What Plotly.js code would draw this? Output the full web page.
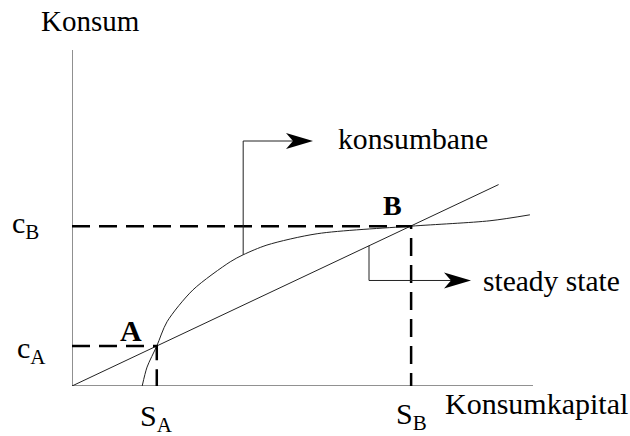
<!DOCTYPE html>
<html>
<head>
<meta charset="utf-8">
<script src="https://cdn.plot.ly/plotly-3.0.1.min.js"></script>
<style>html,body{margin:0;padding:0;background:#fff;}#chart{width:630px;height:436px;}</style>
</head>
<body>
<div id="chart"></div>
<script>
// ---- data ----
const curveCapital = [1.30, 1.39, 1.57, 1.76, 2.24, 2.93, 3.17, 3.61, 4.54, 6.28, 7.74, 8.48];
const curveConsumption = [0.00, 0.35, 0.74, 1.19, 1.78, 2.30, 2.43, 2.61, 2.82, 2.96, 3.06, 3.17];
const lineCapital = [0, 7.90];
const lineConsumption = [0, 3.73];
const pointNames = ['A', 'B'];
const pointCapital = [1.57, 6.28];
const pointConsumption = [0.74, 2.96];
const capitalLabels = ['S<sub>A</sub>', 'S<sub>B</sub>'];
const consumptionLabels = ['c<sub>A</sub>', 'c<sub>B</sub>'];
const calloutTexts = ['konsumbane', 'steady state'];
const xTitle = 'Konsumkapital';
const yTitle = 'Konsum';

// ---- chart ----
const FONT = '"Liberation Serif", "Times New Roman", serif';
const slope = lineConsumption[1] / lineCapital[1];
const traces = [];

traces.push({x: lineCapital, y: lineConsumption, mode: 'lines', line: {color: '#222', width: 1}, hoverinfo: 'skip'});
traces.push({x: curveCapital, y: curveConsumption, mode: 'lines', line: {color: '#222', width: 1, shape: 'spline', smoothing: 0.8}, hoverinfo: 'skip'});
for (let i = 0; i < pointNames.length; i++) {
  traces.push({x: [0, pointCapital[i], pointCapital[i]], y: [pointConsumption[i], pointConsumption[i], 0],
    mode: 'lines', line: {color: '#000', width: 2.5, dash: '18px,9px'}, hoverinfo: 'skip'});
}
const pathStart = {x: curveCapital[6], y: curveConsumption[6]};
const ssK = 5.5;
const ssStart = {x: ssK, y: ssK * slope};
const c1 = {y: 4.537, tip: 4.463};
const c2 = {y: 1.954, tip: 7.389};
traces.push({x: [pathStart.x, pathStart.x, c1.tip - 0.3], y: [pathStart.y, c1.y, c1.y], mode: 'lines', line: {color: '#222', width: 1}, hoverinfo: 'skip'});
traces.push({x: [ssStart.x, ssStart.x, c2.tip - 0.3], y: [ssStart.y, c2.y, c2.y], mode: 'lines', line: {color: '#222', width: 1}, hoverinfo: 'skip'});

const arrow = (x, y) => ({type: 'path', xref: 'x', yref: 'y', xsizemode: 'pixel', ysizemode: 'pixel',
  xanchor: x, yanchor: y, path: 'M0,0L-27,8L-20,0L-27,-8Z', fillcolor: '#000', line: {width: 0}});

const shapes = [
  {type: 'line', xref: 'x', yref: 'y', x0: 0, y0: 0, x1: 8.537, y1: 0, line: {color: '#222', width: 1}, layer: 'below'},
  {type: 'line', xref: 'x', yref: 'y', x0: 0, y0: 0, x1: 0, y1: 6.2222, line: {color: '#222', width: 1}, layer: 'below'},
  arrow(c1.tip, c1.y),
  arrow(c2.tip, c2.y)
];

const txt = (o, size) => Object.assign({showarrow: false, font: {family: FONT, size: size || 29, color: '#000'}}, o);
const annotations = [
  txt({text: yTitle, xref: 'paper', yref: 'paper', x: -0.0611, y: 1.1393, xanchor: 'left', yanchor: 'top'}, 29),
  txt({text: xTitle, xref: 'paper', yref: 'paper', x: 0.6870, y: 0.0015, xanchor: 'left', yanchor: 'top'}, 30),
  txt({text: calloutTexts[0], xref: 'paper', yref: 'paper', x: 0.4889, y: 0.7895, xanchor: 'left', yanchor: 'top'}, 29.7),
  txt({text: calloutTexts[1], xref: 'paper', yref: 'paper', x: 0.7574, y: 0.3665, xanchor: 'left', yanchor: 'top'}, 29.5)
];
const sx = [-25.5, -19], sy = [33.7, 38];
const kShift = [-10.5, -8.5];
const cx = [-24, -31], cy = [16.7, 21.7];
for (let i = 0; i < pointNames.length; i++) {
  annotations.push(txt({text: '<b>' + pointNames[i] + '</b>', x: pointCapital[i], y: pointConsumption[i], xref: 'x', yref: 'y',
    xanchor: 'center', yanchor: 'top', xshift: sx[i], yshift: sy[i]}, i === 0 ? 30 : 28));
  annotations.push(txt({text: capitalLabels[i], x: pointCapital[i], y: 0, xref: 'x', yref: 'y',
    xanchor: 'center', yanchor: 'top', yshift: kShift[i]}, 30));
  annotations.push(txt({text: consumptionLabels[i], x: 0, y: pointConsumption[i], xref: 'x', yref: 'y',
    xanchor: 'right', yanchor: 'top', xshift: cx[i], yshift: cy[i]}, 30));
}

const layout = {
  width: 630, height: 436,
  margin: {l: 72, r: 18, t: 50, b: 50},
  paper_bgcolor: '#fff', plot_bgcolor: '#fff',
  showlegend: false,
  xaxis: {range: [0, 10], showgrid: false, zeroline: false, showline: false, showticklabels: false, ticks: ''},
  yaxis: {range: [0, 6.2222], showgrid: false, zeroline: false, showline: false, showticklabels: false, ticks: ''},
  shapes: shapes,
  annotations: annotations
};
Plotly.newPlot('chart', traces, layout, {displayModeBar: false, staticPlot: true});
</script>
</body>
</html>
